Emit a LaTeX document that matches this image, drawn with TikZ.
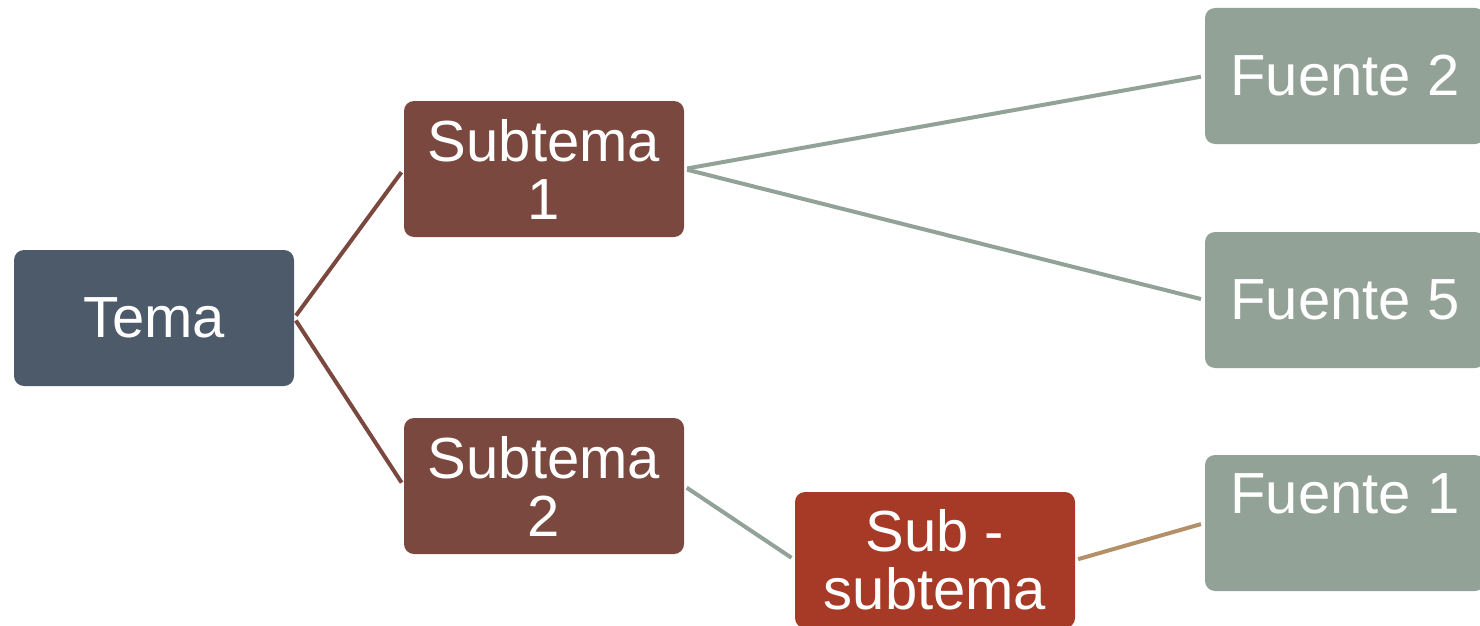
\documentclass[tikz,border=0pt]{standalone}
\usepackage{fontspec}
\setmainfont{Liberation Sans}
\definecolor{temac}{HTML}{4D5A6A}
\definecolor{subc}{HTML}{7A483E}
\definecolor{subsubc}{HTML}{A63A27}
\definecolor{fuentec}{HTML}{93A297}
\definecolor{tanc}{HTML}{B39068}
\begin{document}
\begin{tikzpicture}[x=1pt,y=-1pt,
  box/.style={rounded corners=10pt, minimum width=280pt, minimum height=136pt, inner sep=0pt,
    text=white, align=center, font=\fontsize{58}{58}\selectfont},
  link/.style={line width=4pt, shorten <=3pt, shorten >=4pt}]
\useasboundingbox (0,0) rectangle (1480,626);
\node[box, fill=temac] (tema) at (154,318) {Tema};
\node[box, fill=subc] (s1) at (544,169) {Subtema\\1};
\node[box, fill=subc] (s2) at (544,486) {Subtema\\2};
\node[box, fill=subsubc] (ss) at (935,560) {Sub -\\subtema};
\node[box, fill=fuentec] (f2) at (1345,76) {Fuente 2};
\node[box, fill=fuentec] (f5) at (1345,300) {Fuente 5};
\node[box, fill=fuentec] (f1) at (1345,523) {Fuente 1\\\mbox{}};
\draw[link, subc] (tema.east) -- (s1.west);
\draw[link, subc] (tema.east) -- (s2.west);
\draw[link, fuentec] (s1.east) -- (f2.west);
\draw[link, fuentec] (s1.east) -- (f5.west);
\draw[link, fuentec] (s2.east) -- (ss.west);
\draw[link, tanc] (ss.east) -- (f1.west);
\end{tikzpicture}
\end{document}
